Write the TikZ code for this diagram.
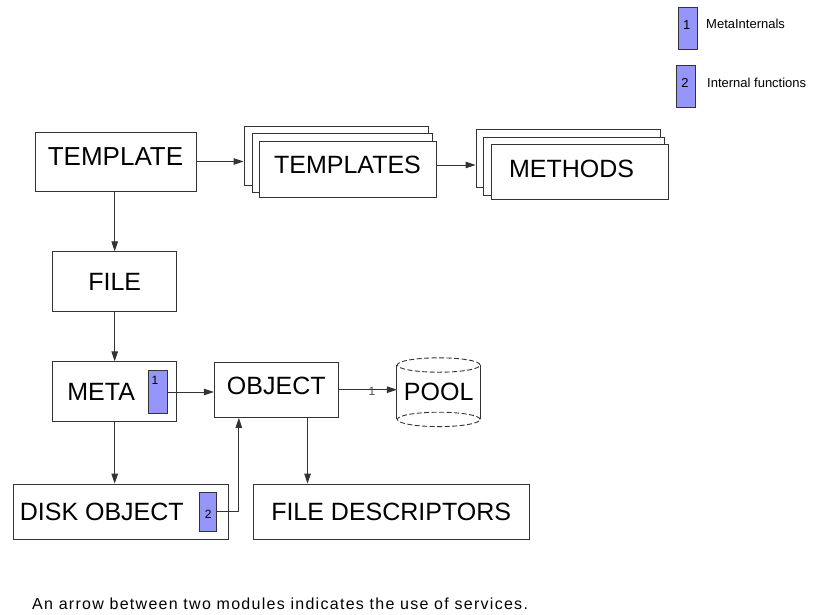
\documentclass[tikz,border=0pt]{standalone}
\usepackage{fontspec}
\setmainfont{Liberation Sans}
\newfontfamily\loosefont[LetterSpace=8]{Liberation Sans}
\usetikzlibrary{arrows.meta,calc}
\definecolor{taglilac}{RGB}{150,150,250}
\begin{document}
\begin{tikzpicture}[x=1pt,y=-1pt,
	module/.style={draw=black!80,line width=0.9pt,fill=white,inner sep=2pt,font=\fontsize{25}{30}\selectfont},
	tagbox/.style={draw=black!80,line width=0.8pt,fill=taglilac,minimum width=19pt,minimum height=42pt,inner sep=0pt},
	tagnum/.style={inner sep=0pt,font=\fontsize{12}{14}\selectfont},
	conn/.style={draw=black!80,line width=0.9pt,-{Triangle[length=10pt,width=6.5pt]}},
	note/.style={inner sep=0pt,font=\fontsize{13}{15}\selectfont}]
\useasboundingbox (0,0) rectangle (818,614);
% legend
\node[tagbox] (leg1) at (687.8,28.6) {};
\node[tagnum,font=\fontsize{13}{15}\selectfont] (leg1num) at (686.7,25) {1};
\node[note,anchor=west] (leg1txt) at (706,24) {MetaInternals};
\node[tagbox] (leg2) at (685.8,86) {};
\node[tagnum,font=\fontsize{13}{15}\selectfont] (leg2num) at (685,83) {2};
\node[note,anchor=west] (leg2txt) at (707,83) {Internal functions};
% top row, the stacks are drawn back to front
\node[module,minimum width=161pt,minimum height=59pt,text depth=9pt,font=\fontsize{26}{30}\selectfont] (template) at (115.5,161.5) {TEMPLATE};
\node[module,minimum width=184pt,minimum height=59pt] (tmplsC) at (336,155.5) {};
\node[module,minimum width=180pt,minimum height=59pt] (tmplsB) at (342,162.5) {};
\node[module,minimum width=177pt,minimum height=56pt,text depth=8pt] (tmpls) at (347.5,169) {TEMPLATES};
\node[module,minimum width=184pt,minimum height=58pt] (methC) at (568,158) {};
\node[module,minimum width=181pt,minimum height=58pt] (methB) at (573.5,166) {};
\node[module,minimum width=177pt,minimum height=55pt,text depth=6pt] (meth) at (579.5,171.5) {METHODS\hspace*{16pt}};
% left column
\node[module,minimum width=124pt,minimum height=60pt] (file) at (114.7,281.8) {FILE};
\node[module,minimum width=124pt,minimum height=60pt] (meta) at (114.7,391.8) {META\hspace*{27pt}};
\node[tagbox,minimum height=42.6pt] (tag1) at (157.8,392) {};
\node[tagnum] (tag1num) at (155,380.5) {1};
\node[module,minimum width=124pt,minimum height=55.5pt,text depth=7pt] (object) at (276.3,389.7) {OBJECT};
\node[module,draw=none,fill=none,minimum width=82.7pt,minimum height=53.5pt] (pool) at (438.7,392.2) {POOL};
\node[module,minimum width=215pt,minimum height=55.3pt] (disk) at (120.8,511.7) {DISK OBJECT\hspace*{38pt}};
\node[tagbox,minimum width=17.4pt,minimum height=38.7pt] (tag2) at (208,511.8) {};
\node[tagnum] (tag2num) at (208.3,513.8) {2};
\node[module,minimum width=275.7pt,minimum height=55.3pt] (fdesc) at (391.2,511.7) {FILE DESCRIPTORS};
% pool cylinder
\draw[draw=black!80,line width=0.9pt] (pool.north west) -- (pool.south west) (pool.north east) -- (pool.south east);
\draw[draw=black!80,line width=0.9pt,dash pattern=on 5pt off 2.5pt] (pool.north) ellipse [x radius=41.4pt,y radius=7.2pt] (pool.south) ellipse [x radius=41.4pt,y radius=7.2pt];
% services used
\draw[conn] (template.east) -- (template.east -| tmplsC.west);
\draw[conn] ([yshift=4pt]tmpls.east) -- ([yshift=4pt]tmpls.east -| methC.west);
\draw[conn] (template.south -| file.north) -- (file.north);
\draw[conn] (file.south) -- (meta.north);
\draw[conn] (meta.south) -- (meta.south |- disk.north);
\draw[conn] (tag1.east) -- (tag1.east -| object.west);
\draw[conn] (object.east) -- node[tagnum,pos=0.57,yshift=-2pt,text=black!70] (poolcnt) {1} (object.east -| pool.west);
\coordinate (objin) at ($(object.south west)!0.2!(object.south east)$);
\coordinate (objout) at ($(object.south west)!0.75!(object.south east)$);
\draw[conn] (tag2.east) -| (objin);
\draw[conn] (objout) -- (objout |- fdesc.north);
\node[anchor=base west,inner sep=0pt,font=\loosefont\fontsize{16}{19}\selectfont] (footnote) at (32,609) {An arrow between two modules indicates the use of services.};
\end{tikzpicture}
\end{document}
